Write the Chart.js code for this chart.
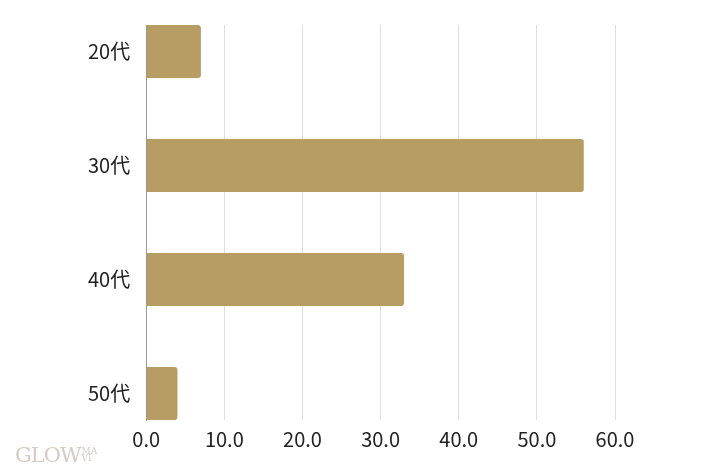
<!DOCTYPE html>
<html>
<head>
<meta charset="utf-8">
<script src="https://cdn.jsdelivr.net/npm/chart.js@4.4.1/dist/chart.umd.min.js"></script>
<style>
  html, body { margin: 0; padding: 0; background: #fff; }
  #wrap { position: relative; width: 720px; height: 474px; }
  .logo {
    position: absolute; left: 15px; top: 443px;
    font-family: "DejaVu Serif", "Liberation Serif", serif;
    font-size: 21px; color: #d8cbc3; letter-spacing: -1px; font-weight: 300;
  }
  .logo small {
    display: inline-block; font-size: 9px; line-height: 7px;
    vertical-align: top; margin-left: 1px; margin-top: 5px; letter-spacing: 0;
  }
</style>
</head>
<body>
<div id="wrap">
  <canvas id="ageChart" width="720" height="474"></canvas>
  <div class="logo">GLOW<small>MA<br>VI</small></div>
</div>
<script>
const ages = ["20代", "30代", "40代", "50代"];
const shares = [7, 56, 33, 4];
const xTicks = [0, 10, 20, 30, 40, 50, 60];

const FONT = "'Noto Sans CJK JP', 'Noto Sans', sans-serif";

/* index axis is linear so bars can touch the top and bottom of the plot */
const points = shares.map((v, i) => ({ x: v, y: i }));

new Chart(document.getElementById("ageChart"), {
  type: "bar",
  data: {
    datasets: [{
      data: points,
      backgroundColor: "#b79c63",
      borderRadius: 3,
      categoryPercentage: 1,
      barPercentage: 0.465
    }]
  },
  options: {
    indexAxis: "y",
    responsive: false,
    animation: false,
    layout: { padding: { left: 72, right: 105, top: 25, bottom: 16 } },
    plugins: { legend: { display: false }, tooltip: { enabled: false } },
    scales: {
      x: {
        type: "linear",
        min: xTicks[0],
        max: xTicks[xTicks.length - 1],
        afterBuildTicks: axis => { axis.ticks = xTicks.map(v => ({ value: v })); },
        ticks: {
          callback: v => Number(v).toFixed(1),
          color: "#222",
          font: { family: FONT, size: 20 },
          padding: 7
        },
        grid: { color: "#dedede", drawTicks: false },
        border: { display: false }
      },
      y: {
        type: "linear",
        reverse: true,
        offset: false,
        min: -0.232,
        max: ages.length - 1 + 0.232,
        afterBuildTicks: axis => { axis.ticks = ages.map((a, i) => ({ value: i })); },
        afterFit: axis => { axis.paddingTop = 0; axis.paddingBottom = 0; },
        ticks: {
          callback: v => ages[v],
          color: "#222",
          font: { family: FONT, size: 20 },
          padding: 16
        },
        grid: { display: false, drawTicks: false, offset: false },
        border: { display: true, color: "#9a9a9a", width: 1 }
      }
    }
  }
});
</script>
</body>
</html>
